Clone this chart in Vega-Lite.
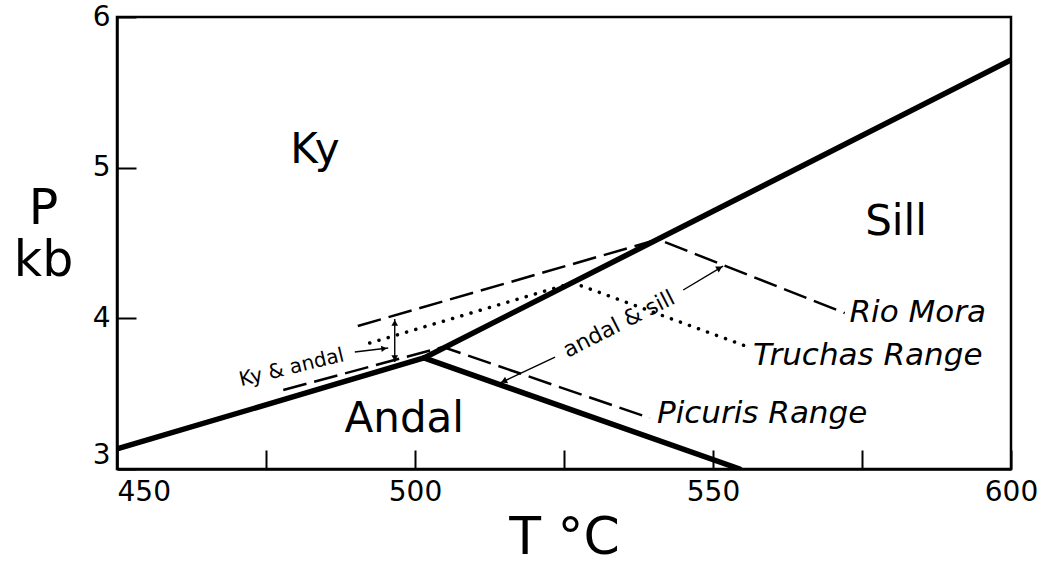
{
  "$schema": "https://vega.github.io/schema/vega-lite/v6.json",
  "width": 894,
  "height": 452,
  "autosize": "none",
  "padding": {"left": 117, "top": 17, "right": 36, "bottom": 96},
  "background": "white",
  "config": {
    "view": {"stroke": "black", "strokeWidth": 2.5},
    "font": "DejaVu Sans",
    "text": {"font": "DejaVu Sans", "color": "black"}
  },
  "datasets": {
    "boundaries": [
      {"set": "stable", "seg": "kyand", "i": 0, "T": 450, "P": 3.133},
      {"set": "stable", "seg": "kyand", "i": 1, "T": 501.5, "P": 3.737},
      {"set": "stable", "seg": "kysill", "i": 0, "T": 501.5, "P": 3.737},
      {"set": "stable", "seg": "kysill", "i": 1, "T": 600, "P": 5.715},
      {"set": "stable", "seg": "andsill", "i": 0, "T": 501.5, "P": 3.737},
      {"set": "stable", "seg": "andsill", "i": 1, "T": 554.5, "P": 3.0},
      {"set": "Rio Mora", "seg": "Rio Mora", "i": 0, "T": 490.4, "P": 3.949},
      {"set": "Rio Mora", "seg": "Rio Mora", "i": 1, "T": 540.8, "P": 4.524},
      {"set": "Rio Mora", "seg": "Rio Mora", "i": 2, "T": 572.1, "P": 4.035},
      {"set": "Picuris Range", "seg": "Picuris Range", "i": 0, "T": 477.9, "P": 3.524},
      {"set": "Picuris Range", "seg": "Picuris Range", "i": 1, "T": 504.7, "P": 3.81},
      {"set": "Picuris Range", "seg": "Picuris Range", "i": 2, "T": 539.4, "P": 3.338},
      {"set": "Truchas Range", "seg": "Truchas Range", "i": 0, "T": 492.4, "P": 3.836},
      {"set": "Truchas Range", "seg": "Truchas Range", "i": 1, "T": 526.5, "P": 4.236},
      {"set": "Truchas Range", "seg": "Truchas Range", "i": 2, "T": 555.9, "P": 3.81}
    ],
    "arrows": [
      {"arrow": "bracket", "T": 496.6, "P": 3.996, "T2": 496.6, "P2": 3.71},
      {"arrow": "ky-andal", "T": 489.9, "P": 3.777, "T2": 495.5, "P2": 3.803},
      {"arrow": "sill-low", "T": 523.5, "P": 3.743, "T2": 514.3, "P2": 3.571},
      {"arrow": "sill-high", "T": 545.0, "P": 4.188, "T2": 551.7, "P2": 4.347}
    ],
    "heads": [
      {"head": "up", "T": 496.6, "P": 3.97},
      {"head": "down", "T": 496.6, "P": 3.736},
      {"head": "ky-andal", "T": 494.8, "P": 3.8},
      {"head": "sill-low", "T": 514.9, "P": 3.582},
      {"head": "sill-high", "T": 551.1, "P": 4.334}
    ],
    "labels": [
      {"kind": "phase", "text": "Ky", "T": 483.2, "P": 5.031},
      {"kind": "phase", "text": "Sill", "T": 580.7, "P": 4.553},
      {"kind": "phase", "text": "Andal", "T": 498.2, "P": 3.246},
      {"kind": "locality", "text": "Rio Mora", "T": 572.9, "P": 3.976},
      {"kind": "locality", "text": "Truchas Range", "T": 556.7, "P": 3.69},
      {"kind": "locality", "text": "Picuris Range", "T": 540.6, "P": 3.305},
      {"kind": "field1", "text": "Ky & andal", "T": 479.3, "P": 3.672},
      {"kind": "field2", "text": "andal & sill", "T": 534.2, "P": 3.962}
    ]
  },
  "layer": [
    {
      "data": {"name": "boundaries"},
      "transform": [{"filter": "datum.set == 'stable'"}],
      "mark": {"type": "line", "stroke": "black", "strokeWidth": 5.5, "strokeCap": "round", "clip": true},
      "encoding": {
        "x": {
          "field": "T", "type": "quantitative",
          "scale": {"domain": [450, 600], "nice": false, "zero": false},
          "axis": {
            "values": [450, 475, 500, 525, 550, 575, 600],
            "format": "d",
            "labelExpr": "datum.value % 50 == 0 ? datum.label : ''",
            "grid": false,
            "tickSize": -19, "tickWidth": 2, "tickColor": "black",
            "domainColor": "black", "domainWidth": 2.5,
            "labelFont": "DejaVu Sans", "labelFontSize": 28, "labelColor": "black",
            "labelPadding": 28, "labelFlush": false, "labelOverlap": false, "labelBound": false,
            "labelAlign": {"condition": {"test": "datum.value == 450", "value": "left"}, "value": "center"},
            "title": "T °C", "titleFont": "DejaVu Sans", "titleFontSize": 52, "titleFontWeight": "normal",
            "titleColor": "black", "titleX": 447, "titleY": 84, "titleAlign": "center", "titleBaseline": "alphabetic"
          }
        },
        "y": {
          "field": "P", "type": "quantitative",
          "scale": {"domain": [3, 6], "nice": false, "zero": false},
          "axis": {
            "values": [3, 4, 5, 6],
            "format": "d",
            "grid": false,
            "tickSize": -19, "tickWidth": 2, "tickColor": "black",
            "domainColor": "black", "domainWidth": 2.5,
            "labelFont": "DejaVu Sans", "labelFontSize": 28, "labelColor": "black",
            "labelPadding": 26, "labelFlush": false, "labelOverlap": false, "labelBound": false,
            "labelBaseline": {"condition": {"test": "datum.value == 3", "value": "bottom"}, "value": "middle"},
            "title": ["P", "kb"], "titleFont": "DejaVu Sans", "titleFontSize": 49, "titleFontWeight": "normal",
            "titleColor": "black", "titleAngle": 0, "titleX": -74, "titleY": 206, "titleAlign": "center",
            "titleBaseline": "alphabetic", "titleLineHeight": 52
          }
        },
        "detail": {"field": "seg"},
        "order": {"field": "i"}
      }
    },
    {
      "data": {"name": "boundaries"},
      "transform": [{"filter": "datum.set == 'Rio Mora' || datum.set == 'Picuris Range'"}],
      "mark": {"type": "line", "stroke": "black", "strokeWidth": 2.5, "strokeDash": [24, 8]},
      "encoding": {
        "x": {"field": "T", "type": "quantitative"},
        "y": {"field": "P", "type": "quantitative"},
        "detail": {"field": "seg"},
        "order": {"field": "i"}
      }
    },
    {
      "data": {"name": "boundaries"},
      "transform": [{"filter": "datum.set == 'Truchas Range'"}],
      "mark": {"type": "line", "stroke": "black", "strokeWidth": 3.5, "strokeDash": [0.1, 9.5], "strokeCap": "round"},
      "encoding": {
        "x": {"field": "T", "type": "quantitative"},
        "y": {"field": "P", "type": "quantitative"},
        "detail": {"field": "seg"},
        "order": {"field": "i"}
      }
    },
    {
      "data": {"name": "arrows"},
      "mark": {"type": "rule", "stroke": "black", "strokeWidth": 1.4},
      "encoding": {
        "x": {"field": "T", "type": "quantitative"},
        "y": {"field": "P", "type": "quantitative"},
        "x2": {"field": "T2"},
        "y2": {"field": "P2"}
      }
    },
    {
      "data": {"name": "heads"},
      "transform": [{"filter": "datum.head == 'up'"}],
      "mark": {"type": "point", "shape": "triangle-up", "filled": true, "color": "black", "size": 45, "opacity": 1},
      "encoding": {"x": {"field": "T", "type": "quantitative"}, "y": {"field": "P", "type": "quantitative"}}
    },
    {
      "data": {"name": "heads"},
      "transform": [{"filter": "datum.head == 'down'"}],
      "mark": {"type": "point", "shape": "triangle-down", "filled": true, "color": "black", "size": 45, "opacity": 1},
      "encoding": {"x": {"field": "T", "type": "quantitative"}, "y": {"field": "P", "type": "quantitative"}}
    },
    {
      "data": {"name": "heads"},
      "transform": [{"filter": "datum.head == 'ky-andal'"}],
      "mark": {"type": "point", "shape": "triangle-right", "angle": -7, "filled": true, "color": "black", "size": 40, "opacity": 1},
      "encoding": {"x": {"field": "T", "type": "quantitative"}, "y": {"field": "P", "type": "quantitative"}}
    },
    {
      "data": {"name": "heads"},
      "transform": [{"filter": "datum.head == 'sill-low'"}],
      "mark": {"type": "point", "shape": "triangle-right", "angle": 154.7, "filled": true, "color": "black", "size": 50, "opacity": 1},
      "encoding": {"x": {"field": "T", "type": "quantitative"}, "y": {"field": "P", "type": "quantitative"}}
    },
    {
      "data": {"name": "heads"},
      "transform": [{"filter": "datum.head == 'sill-high'"}],
      "mark": {"type": "point", "shape": "triangle-right", "angle": -31, "filled": true, "color": "black", "size": 50, "opacity": 1},
      "encoding": {"x": {"field": "T", "type": "quantitative"}, "y": {"field": "P", "type": "quantitative"}}
    },
    {
      "data": {"name": "labels"},
      "transform": [{"filter": "datum.kind == 'phase'"}],
      "mark": {"type": "text", "font": "DejaVu Sans", "fontSize": 42, "align": "center", "baseline": "alphabetic", "color": "black"},
      "encoding": {"x": {"field": "T", "type": "quantitative"}, "y": {"field": "P", "type": "quantitative"}, "text": {"field": "text"}}
    },
    {
      "data": {"name": "labels"},
      "transform": [{"filter": "datum.kind == 'locality'"}],
      "mark": {"type": "text", "font": "DejaVu Sans", "fontSize": 31, "fontStyle": "italic", "align": "left", "baseline": "alphabetic", "color": "black"},
      "encoding": {"x": {"field": "T", "type": "quantitative"}, "y": {"field": "P", "type": "quantitative"}, "text": {"field": "text"}}
    },
    {
      "data": {"name": "labels"},
      "transform": [{"filter": "datum.kind == 'field1'"}],
      "mark": {"type": "text", "font": "DejaVu Sans", "fontSize": 20, "angle": -13.7, "align": "center", "baseline": "middle", "color": "black"},
      "encoding": {"x": {"field": "T", "type": "quantitative"}, "y": {"field": "P", "type": "quantitative"}, "text": {"field": "text"}}
    },
    {
      "data": {"name": "labels"},
      "transform": [{"filter": "datum.kind == 'field2'"}],
      "mark": {"type": "text", "font": "DejaVu Sans", "fontSize": 22, "angle": -27, "align": "center", "baseline": "middle", "color": "black"},
      "encoding": {"x": {"field": "T", "type": "quantitative"}, "y": {"field": "P", "type": "quantitative"}, "text": {"field": "text"}}
    }
  ]
}
